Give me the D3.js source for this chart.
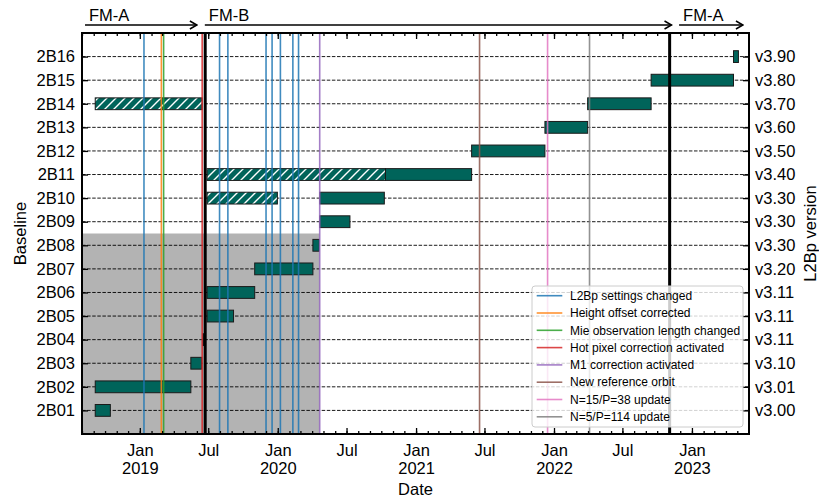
<!DOCTYPE html>
<html>
<head>
<meta charset="utf-8">
<script src="https://cdn.jsdelivr.net/npm/d3@7"></script>
<style>
  body { margin: 0; background: #fff; }
  text { font-family: "Liberation Sans", Arial, sans-serif; }
</style>
</head>
<body>
<div id="chart"></div>
<script>
// baselines and matching processor versions
const baselines = ["2B01","2B02","2B03","2B04","2B05","2B06","2B07","2B08",
                   "2B09","2B10","2B11","2B12","2B13","2B14","2B15","2B16"]
const versions = ["v3.00","v3.01","v3.10","v3.11","v3.11","v3.11","v3.20","v3.30",
                  "v3.30","v3.30","v3.40","v3.50","v3.60","v3.70","v3.80","v3.90"]

// processing periods: baseline, start, end, reprocessed (hatched)
const periods = [
  ["2B01", "2018-09-05", "2018-10-15", false],
  ["2B02", "2018-09-05", "2019-05-16", false],
  ["2B03", "2019-05-16", "2019-06-14", false],
  ["2B04", "2019-06-17", "2019-06-19", false],
  ["2B05", "2019-06-28", "2019-09-06", false],
  ["2B06", "2019-06-28", "2019-11-01", false],
  ["2B07", "2019-11-01", "2020-04-03", false],
  ["2B08", "2020-04-03", "2020-04-20", false],
  ["2B09", "2020-04-21", "2020-07-10", false],
  ["2B10", "2019-06-28", "2019-12-31", true],
  ["2B10", "2020-04-21", "2020-10-09", false],
  ["2B11", "2019-06-28", "2020-10-12", true],
  ["2B11", "2020-10-12", "2021-05-28", false],
  ["2B12", "2021-05-28", "2021-12-08", false],
  ["2B13", "2021-12-08", "2022-03-31", false],
  ["2B14", "2018-09-05", "2019-06-15", true],
  ["2B14", "2022-03-31", "2022-09-15", false],
  ["2B15", "2022-09-15", "2023-04-21", false],
  ["2B16", "2023-04-21", "2023-05-04", false],
]

// events (vertical lines)
const eventLabels = ["L2Bp settings changed", "Height offset corrected", "Mie observation length changed",
                     "Hot pixel correction activated", "M1 correction activated", "New reference orbit",
                     "N=15/P=38 update", "N=5/P=114 update"]
const eventDates = [
  ["2019-01-12","2019-07-31","2019-08-22","2019-12-01","2019-12-17","2020-01-08","2020-02-10","2020-02-25"],
  ["2019-02-27"],
  ["2019-03-05"],
  ["2019-06-15"],
  ["2020-04-21"],
  ["2021-06-18"],
  ["2021-12-15"],
  ["2022-04-05"],
]
const eventColors = ["#1f77b4","#ff7f0e","#2ca02c","#d62728","#9467bd","#8c564b","#e377c2","#7f7f7f"]

// laser switch dates and transmitter periods
const switchDates = ["2019-06-23", "2022-11-03"]
const lasers = [
  ["FM-A", "2018-08-09", "2019-06-01"],
  ["FM-B", "2019-06-22", "2022-11-08"],
  ["FM-A", "2022-11-28", "2023-05-16"],
]

// shaded (obsolete) block
const shadeEnd = "2020-04-21"
const shadeTop = 8.5

const xDomain = ["2018-08-01", "2023-06-01"]

const W = 819, H = 497
const margin = { top: 33, right: 70, bottom: 63, left: 82 }
const width = W - margin.left - margin.right
const height = H - margin.top - margin.bottom

const svg = d3.select("#chart").append("svg")
  .attr("width", W).attr("height", H)
  .attr("viewBox", `0 0 ${W} ${H}`)

const defs = svg.append("defs")
const hatch = defs.append("pattern")
  .attr("id", "hatch")
  .attr("patternUnits", "userSpaceOnUse")
  .attr("width", 9).attr("height", 9)
hatch.append("rect").attr("width", 9).attr("height", 9).attr("fill", "#00645a")
hatch.append("path")
  .attr("d", "M-1,1 l2,-2 M0,9 l9,-9 M8,10 l2,-2")
  .attr("stroke", "#fff").attr("stroke-width", 1.4)

defs.append("clipPath").attr("id", "plot-clip")
  .append("rect").attr("width", width).attr("height", height)

const g = svg.append("g")
  .attr("transform", `translate(${margin.left},${margin.top})`)

const x = d3.scaleUtc()
  .domain(xDomain.map(d => new Date(d)))
  .range([0, width])

const y = d3.scaleLinear()
  .domain([0, 17])
  .range([height, 0])

const yOf = b => baselines.indexOf(b) + 1

const plot = g.append("g").attr("clip-path", "url(#plot-clip)")

// shaded block
plot.append("rect")
  .attr("x", 0)
  .attr("y", y(shadeTop))
  .attr("width", x(new Date(shadeEnd)))
  .attr("height", height - y(shadeTop))
  .attr("fill", "#b3b3b3")

// dashed horizontal grid
plot.selectAll(".grid")
  .data(baselines)
  .join("line")
  .attr("x1", 0).attr("x2", width)
  .attr("y1", d => y(yOf(d))).attr("y2", d => y(yOf(d)))
  .attr("stroke", "#000")
  .attr("stroke-width", 0.9)
  .attr("stroke-dasharray", "3.5,1.6")

// bars
const barH = y(0) - y(0.5)
plot.selectAll(".bar")
  .data(periods)
  .join("rect")
  .attr("x", d => x(new Date(d[1])))
  .attr("y", d => y(yOf(d[0])) - barH / 2)
  .attr("width", d => Math.max(1, x(new Date(d[2])) - x(new Date(d[1]))))
  .attr("height", barH)
  .attr("fill", d => d[3] ? "url(#hatch)" : "#00645a")
  .attr("stroke", "#1a1a1a")
  .attr("stroke-width", 1)

// event lines
eventDates.forEach((dates, i) => {
  plot.selectAll(null)
    .data(dates)
    .join("line")
    .attr("x1", d => x(new Date(d))).attr("x2", d => x(new Date(d)))
    .attr("y1", 0).attr("y2", height)
    .attr("stroke", eventColors[i])
    .attr("stroke-opacity", 0.85)
    .attr("stroke-width", 1.6)
})

// laser switch lines
plot.selectAll(".switch")
  .data(switchDates)
  .join("line")
  .attr("x1", d => x(new Date(d))).attr("x2", d => x(new Date(d)))
  .attr("y1", 0).attr("y2", height)
  .attr("stroke", "#000")
  .attr("stroke-width", 3)

// axes
const months = d3.utcMonth.range(x.domain()[0], x.domain()[1])
const majors = months.filter(d => d.getUTCMonth() % 6 === 0)
const monthName = d3.utcFormat("%b")

const fixAxis = sel => {
  sel.select(".domain").remove()
  sel.selectAll(".tick line").attr("stroke", "#000").attr("stroke-width", 1.3)
}

g.append("g")
  .attr("transform", `translate(0,${height})`)
  .call(d3.axisBottom(x).tickValues(months).tickSize(-3).tickFormat(""))
  .call(fixAxis)

const bottom = g.append("g")
  .attr("transform", `translate(0,${height})`)
  .call(d3.axisBottom(x).tickValues(majors).tickSize(-6).tickPadding(10).tickFormat(""))
  .call(fixAxis)
bottom.selectAll(".tick text").each(function(d) {
  const t = d3.select(this)
    .attr("font-size", 16.5).attr("fill", "#000").attr("font-family", null)
  t.append("tspan").attr("x", 0).attr("dy", "0.71em").text(monthName(d))
  if (d.getUTCMonth() === 0)
    t.append("tspan").attr("x", 0).attr("dy", "1.12em").text(d.getUTCFullYear())
})

g.append("g")
  .call(d3.axisTop(x).tickValues(months).tickSize(-3).tickFormat(""))
  .call(fixAxis)
g.append("g")
  .call(d3.axisTop(x).tickValues(majors).tickSize(-6).tickFormat(""))
  .call(fixAxis)

const left = g.append("g")
  .call(d3.axisLeft(y).tickValues(d3.range(1, 17)).tickSize(-6).tickPadding(7)
    .tickFormat(i => baselines[i - 1]))
  .call(fixAxis)
left.selectAll(".tick text").attr("font-size", 16.5).attr("fill", "#000").attr("font-family", null)

const right = g.append("g")
  .attr("transform", `translate(${width},0)`)
  .call(d3.axisRight(y).tickValues(d3.range(1, 17)).tickSize(-6).tickPadding(6)
    .tickFormat(i => versions[i - 1]))
  .call(fixAxis)
right.selectAll(".tick text").attr("font-size", 16.5).attr("fill", "#000").attr("font-family", null)

// frame
g.append("rect")
  .attr("width", width).attr("height", height)
  .attr("fill", "none").attr("stroke", "#000").attr("stroke-width", 2)

// axis titles
g.append("text")
  .attr("x", width / 2).attr("y", height + 61)
  .attr("text-anchor", "middle").attr("font-size", 16.5)
  .text("Date")
g.append("text")
  .attr("transform", `translate(${-56},${height / 2}) rotate(-90)`)
  .attr("text-anchor", "middle").attr("font-size", 16.5)
  .text("Baseline")
g.append("text")
  .attr("transform", `translate(${width + 67},${height / 2}) rotate(-90)`)
  .attr("text-anchor", "middle").attr("font-size", 16.5)
  .text("L2Bp version")

// laser arrows above the plot
defs.append("marker")
  .attr("id", "arrow")
  .attr("viewBox", "0 0 10 10")
  .attr("refX", 9).attr("refY", 5)
  .attr("markerWidth", 10).attr("markerHeight", 10)
  .attr("markerUnits", "userSpaceOnUse")
  .attr("orient", "auto")
  .append("path")
  .attr("d", "M2,1 L9,5 L2,9")
  .attr("fill", "none").attr("stroke", "#000").attr("stroke-width", 1.5)

const arrows = g.append("g").attr("transform", "translate(0,-8)")
arrows.selectAll("line")
  .data(lasers)
  .join("line")
  .attr("x1", d => x(new Date(d[1]))).attr("x2", d => x(new Date(d[2])))
  .attr("y1", 0).attr("y2", 0)
  .attr("stroke", "#000").attr("stroke-width", 1.5)
  .attr("marker-end", "url(#arrow)")
arrows.selectAll("text")
  .data(lasers)
  .join("text")
  .attr("x", d => x(new Date(d[1])) + 4)
  .attr("y", -4.5)
  .attr("font-size", 16.5)
  .text(d => d[0])

// legend
const lg = g.append("g").attr("transform", `translate(${532 - margin.left},${286 - margin.top})`)
lg.append("rect")
  .attr("width", 211).attr("height", 141)
  .attr("rx", 3)
  .attr("fill", "#fff").attr("fill-opacity", 0.8)
  .attr("stroke", "#cccccc").attr("stroke-width", 1)
const rows = lg.selectAll(".row")
  .data(eventLabels)
  .join("g")
  .attr("transform", (d, i) => `translate(0,${9.7 + i * 17.3})`)
rows.append("line")
  .attr("x1", 4.7).attr("x2", 30.3)
  .attr("stroke", (d, i) => eventColors[i])
  .attr("stroke-opacity", 0.85)
  .attr("stroke-width", 1.6)
rows.append("text")
  .attr("x", 38).attr("dy", "0.35em")
  .attr("font-size", 12)
  .text(d => d)
</script>
</body>
</html>
